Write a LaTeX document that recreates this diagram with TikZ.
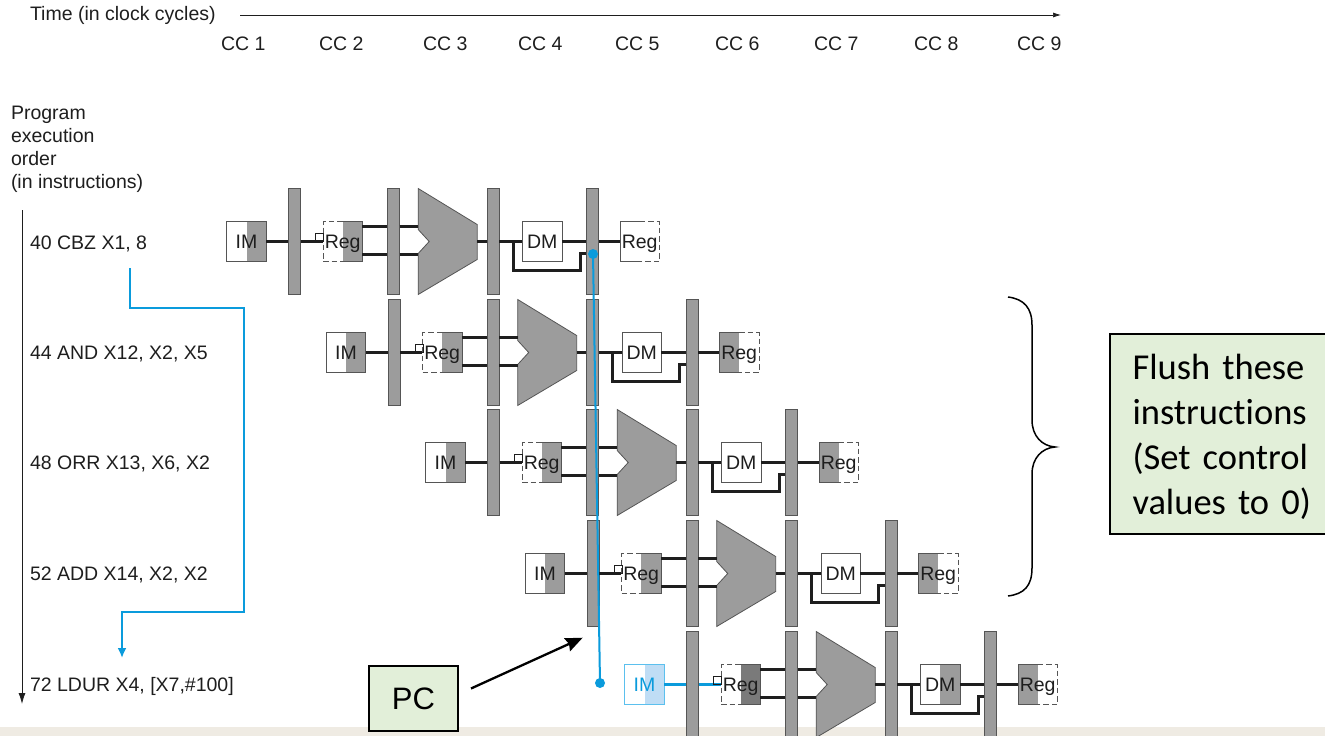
\documentclass[tikz,border=0pt]{standalone}
\usepackage{fontspec}
\setmainfont{Liberation Sans}
\newfontfamily\calib[WordSpace=0.75,Ligatures=NoCommon]{Carlito}
\usetikzlibrary{arrows.meta}
\definecolor{lgray}{HTML}{9C9C9C}
\definecolor{dgray}{HTML}{7A7A7A}
\definecolor{edge}{HTML}{555555}
\definecolor{ink}{HTML}{1E1E1E}
\definecolor{blueline}{HTML}{0A9BDC}
\definecolor{imblue}{HTML}{5BC0EE}
\definecolor{imfill}{HTML}{BFDDF5}
\definecolor{greenbox}{HTML}{E2EFD9}
\definecolor{band}{HTML}{EFEBE3}
\tikzset{
  lbl/.style={inner sep=0pt,outer sep=0pt,text=ink,font=\fontsize{19.5}{23}\selectfont,text height=14pt,text depth=0pt},
  latch/.style={draw=edge,line width=0.7pt,fill=lgray,minimum width=12.3pt,minimum height=105.5pt,inner sep=0pt,outer sep=0pt},
  unitbox/.style={minimum width=39.5pt,minimum height=39.5pt,inner sep=0pt,outer sep=0pt,font=\fontsize{19.5}{23}\selectfont,text height=14pt,text depth=0pt},
  rfill/.style={path picture={\fill[#1] (path picture bounding box.north) rectangle (path picture bounding box.south east);}},
  lfill/.style={path picture={\fill[#1] (path picture bounding box.north) rectangle (path picture bounding box.south west);}},
  wire/.style={line width=3pt},
  thinedge/.style={draw=edge,line width=0.7pt},
  dashedge/.style={draw=edge,line width=0.7pt,dash pattern=on 5.5pt off 3pt},
  alushape/.style={draw=edge,line width=0.8pt,fill=lgray},
  bluewire/.style={draw=blueline,line width=2pt},
  callout/.style={draw=black,line width=2pt,fill=greenbox,inner sep=0pt,outer sep=0pt},
}
% #1 name, #2 dx, #3 y centre, #4 DM half fill, #5 write-back half fill,
% #6 IM edge, #7 IM fill, #8 Reg fill, #9 wire and IM text colour
\newcommand{\piperow}[9]{%
\begin{scope}[shift={(#2,#3)}]
  \node[latch] (#1-a) at (294.5,0) {};
  \node[latch] (#1-b) at (393.5,0) {};
  \node[latch] (#1-c) at (493,0) {};
  \node[latch] (#1-d) at (592.5,0) {};
  \node[unitbox,rfill=#7,draw=#6,line width=0.8pt,text=#9] (#1-im) at (246.5,0) {IM};
  \node[unitbox,rfill=#8,text=ink] (#1-rr) at (342.7,0) {Reg};
  \draw[dashedge] (#1-rr.north) -- (#1-rr.north west) -- (#1-rr.south west) -- (#1-rr.south);
  \draw[thinedge] (#1-rr.north) -- (#1-rr.north east) -- (#1-rr.south east) -- (#1-rr.south);
  \path[alushape] (418.2,-53) -- (477.2,-17) -- (477.2,18) -- (418.2,53) -- (418.2,12) -- (429.2,0) -- (418.2,-12) -- cycle;
  \coordinate (#1-alua) at (418.2,-15.5);
  \coordinate (#1-alub) at (418.2,12.5);
  \coordinate (#1-aluo) at (477.2,0);
  \node[unitbox,rfill=#4,draw=edge,line width=0.8pt,text=ink] (#1-dm) at (542.2,0) {DM};
  \node[unitbox,lfill=#5,text=ink] (#1-rw) at (639.7,0) {Reg};
  \draw[thinedge] (#1-rw.north) -- (#1-rw.north west) -- (#1-rw.south west) -- (#1-rw.south);
  \draw[dashedge] (#1-rw.north) -- (#1-rw.north east) -- (#1-rw.south east) -- (#1-rw.south);
  \draw[wire,draw=#9] (#1-im.east) -- (#1-a.west);
  \draw[wire,draw=#9] (#1-a.east) -- (#1-rr.west);
  \node[draw=ink,line width=0.6pt,fill=none,minimum width=8pt,minimum height=8pt,inner sep=0pt] (#1-sq) at (319.3,-4) {};
  \draw[wire,draw=ink] (#1-rr.east |- #1-alua) -- (#1-b.west |- #1-alua);
  \draw[wire,draw=ink] (#1-b.east |- #1-alua) -- (#1-alua);
  \draw[wire,draw=ink] (#1-rr.east |- #1-alub) -- (#1-b.west |- #1-alub);
  \draw[wire,draw=ink] (#1-b.east |- #1-alub) -- (#1-alub);
  \draw[wire,draw=ink] (#1-aluo) -- (#1-c.west);
  \draw[wire,draw=ink] (#1-c.east) -- (#1-dm.west);
  \draw[wire,draw=ink] (#1-dm.east) -- (#1-d.west);
  \draw[wire,draw=ink] (#1-d.east) -- (#1-rw.west);
  \draw[wire,draw=ink,line join=miter] (513.3,0) -- (513.3,29) -- (580.3,29) -- (580.3,12) -- (#1-d.west |- 0,12);
\end{scope}}
\begin{document}
\begin{tikzpicture}[x=1pt,y=-1pt]
\useasboundingbox (0,0) rectangle (1325,736);
\clip (0,0) rectangle (1325,736);
\fill[white] (0,0) rectangle (1325,736);
\fill[band] (0,727) rectangle (1325,736);

% time axis
\node[lbl,anchor=west] (time) at (30,13) {Time (in clock cycles)};
\coordinate (tstart) at (240,15);
\coordinate (tend) at (1061,15);
\draw[line width=0.7pt,ink,-{Latex[length=8pt,width=5pt]}] (tstart) -- (tend);
\node[lbl] (cc1) at (243.3,43) {CC 1};
\node[lbl] (cc2) at (341.3,43) {CC 2};
\node[lbl] (cc3) at (445.3,43) {CC 3};
\node[lbl] (cc4) at (540.3,43) {CC 4};
\node[lbl] (cc5) at (637.3,43) {CC 5};
\node[lbl] (cc6) at (737.3,43) {CC 6};
\node[lbl] (cc7) at (836.3,43) {CC 7};
\node[lbl] (cc8) at (936.3,43) {CC 8};
\node[lbl] (cc9) at (1039.3,43) {CC 9};

% program order
\node[inner sep=0pt,outer sep=0pt,text=ink,font=\fontsize{19.5}{23}\selectfont,anchor=north west,align=left] (prog) at (11,105.7) {Program\\execution\\order\\(in instructions)};
\coordinate (pstart) at (22,210);
\coordinate (pend) at (22,704);
\draw[line width=0.8pt,ink,-{Latex[length=11pt,width=7pt]}] (pstart) -- (pend);
\node[lbl,anchor=west] (i1) at (30,242) {40 CBZ X1, 8};
\node[lbl,anchor=west] (i2) at (30,352) {44 AND X12, X2, X5};
\node[lbl,anchor=west] (i3) at (30,462) {48 ORR X13, X6, X2};
\node[lbl,anchor=west] (i4) at (30,573) {52 ADD X14, X2, X2};
\node[lbl,anchor=west] (i5) at (30,684) {72 LDUR X4, [X7,\#100]};

% pipeline rows
\piperow{r1}{0}{241.5}{white}{white}{edge}{lgray}{lgray}{ink}
\piperow{r2}{99.5}{352.5}{white}{lgray}{edge}{lgray}{lgray}{ink}
\piperow{r3}{199}{462.5}{white}{lgray}{edge}{lgray}{lgray}{ink}
\piperow{r4}{298.5}{573.5}{white}{lgray}{edge}{lgray}{lgray}{ink}
\piperow{r5}{398}{684.5}{lgray}{lgray}{imblue}{imfill}{dgray}{blueline}

% branch jump
\coordinate (js) at (130,268);
\coordinate (je) at (122,658);
\draw[bluewire,line join=miter,-{Latex[length=10pt,width=9pt]}] (js) -- (130,308) -- (244,308) -- (244,612) -- (122,612) -- (je);

% PC line
\coordinate (pca) at (593,254);
\coordinate (pcb) at (600,683);
\draw[bluewire] (pca) -- (pcb);
\fill[blueline] (pca) circle (5pt);
\fill[blueline] (pcb) circle (5pt);

% PC callout
\node[callout,minimum width=89pt,minimum height=65pt,text=black,font=\fontsize{31}{36}\selectfont] (pc) at (413.5,698.5) {PC};
\coordinate (pct) at (582.7,637.7);
\draw[line width=2.3pt,black,-{Stealth[length=17pt,width=14pt,inset=2pt]}] (471,688.5) -- (pct);

% brace
\draw[line width=1.5pt,black] (1008,297) .. controls (1024,299) and (1032,308) .. (1032,325) -- (1032,420) .. controls (1032,436) and (1042,446) .. (1055,447) .. controls (1042,448) and (1032,458) .. (1032,474) -- (1032,568) .. controls (1032,586) and (1024,594) .. (1008,596);

% flush callout
\node[callout,minimum width=240pt,minimum height=200pt,anchor=north west,align=left,text width=195pt,inner xsep=20.5pt,text=black,font=\calib\fontsize{36.5}{45}\selectfont] (flush) at (1110,333.5) {\rule{0pt}{33pt}Flush these\\instructions\\(Set control\\values to 0)};
\end{tikzpicture}
\end{document}
